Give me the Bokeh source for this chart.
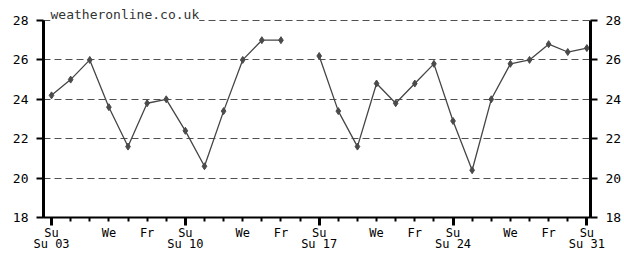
import math
from bokeh.plotting import figure
from bokeh.models import ColumnDataSource, FixedTicker, LinearAxis
from bokeh.embed import file_html
from bokeh.resources import INLINE

# ---- data ----
days = list(range(3, 32))
temps = [24.2, 25.0, 26.0, 23.6, 21.6, 23.8, 24.0, 22.4, 20.6, 23.4, 26.0, 27.0, 27.0,
         math.nan, 26.2, 23.4, 21.6, 24.8, 23.8, 24.8, 25.8, 22.9, 20.4, 24.0, 25.8,
         26.0, 26.8, 26.4, 26.6]
y_ticks = [18, 20, 22, 24, 26, 28]
grid_ticks = [20, 22, 24, 26]
sundays = [3, 10, 17, 24, 31]
day_label_pos = [3, 6, 8, 10, 13, 15, 17, 20, 22, 24, 27, 29, 31]
day_label_txt = ["Su", "We", "Fr", "Su", "We", "Fr", "Su", "We", "Fr", "Su", "We", "Fr", "Su"]
date_label_txt = ["Su 03", "Su 10", "Su 17", "Su 24", "Su 31"]
watermark = "weatheronline.co.uk"

FONT = "DejaVu Sans Mono"
FS = "13px"
FSX = "12px"
GRID = "#505050"

p = figure(width=624, height=253, x_range=(2.58, 31.19), y_range=(18, 28),
           output_backend="svg", toolbar_location=None,
           min_border_left=43, min_border_right=33, min_border_top=20, min_border_bottom=20)
# top edge of the frame = dashed 28 line
p.outline_line_color = GRID
p.outline_line_dash = "7 4"
p.outline_line_width = 1.2
p.background_fill_color = "white"
p.border_fill_color = "white"

# watermark as the title, sitting on the top gridline
p.title.text = watermark
p.title.align = "left"
p.title.offset = 7
p.title.standoff = -3
p.title.text_font = FONT
p.title.text_font_size = FS
p.title.text_font_style = "normal"
p.title.text_color = "#333333"
p.title.background_fill_color = "white"

src = ColumnDataSource(dict(x=days, y=temps))
p.line("x", "y", source=src, line_color="#454545", line_width=1.3)
p.scatter("x", "y", source=src, marker="diamond", size=7, color="#4a4a4a")

# grid
p.xgrid.visible = False
p.ygrid.ticker = FixedTicker(ticks=grid_ticks)
p.ygrid.grid_line_color = GRID
p.ygrid.grid_line_dash = "7 4"
p.ygrid.grid_line_width = 1.2

# y axes
left = p.yaxis[0]
right = LinearAxis()
p.add_layout(right, "right")
for ax, so in ((left, 8), (right, 8)):
    ax.ticker = FixedTicker(ticks=y_ticks, minor_ticks=[])
    ax.axis_line_width = 3
    ax.axis_line_color = "black"
    ax.major_tick_out = 7
    ax.major_tick_in = 0
    ax.major_tick_line_width = 2
    ax.minor_tick_line_color = None
    ax.major_label_text_font = FONT
    ax.major_label_text_font_size = FS
    ax.major_label_text_color = "black"
    ax.major_label_standoff = so

# x axis: ticks only
xa = p.xaxis[0]
xa.ticker = FixedTicker(ticks=sundays, minor_ticks=days)
xa.axis_line_width = 2
xa.axis_line_color = "black"
xa.major_tick_out = 8
xa.major_tick_in = 0
xa.major_tick_line_width = 3
xa.minor_tick_out = 4
xa.minor_tick_in = 0
xa.minor_tick_line_width = 2
xa.major_label_text_font_size = "1px"
xa.major_label_text_alpha = 0
xa.major_label_standoff = 0

def label_axis(pos, txt, standoff):
    ax = LinearAxis(ticker=FixedTicker(ticks=pos, minor_ticks=[]),
                    major_label_overrides={d: t for d, t in zip(pos, txt)})
    ax.axis_line_color = None
    ax.major_tick_line_color = None
    ax.minor_tick_line_color = None
    ax.major_tick_out = 0
    ax.major_tick_in = 0
    ax.major_label_standoff = standoff
    ax.major_label_text_font = FONT
    ax.major_label_text_font_size = FSX
    ax.major_label_text_color = "black"
    p.add_layout(ax, "below")
    return ax

label_axis(day_label_pos, day_label_txt, 0)
label_axis(sundays, date_label_txt, -6)

open("out.html", "w").write(file_html(p, INLINE))
